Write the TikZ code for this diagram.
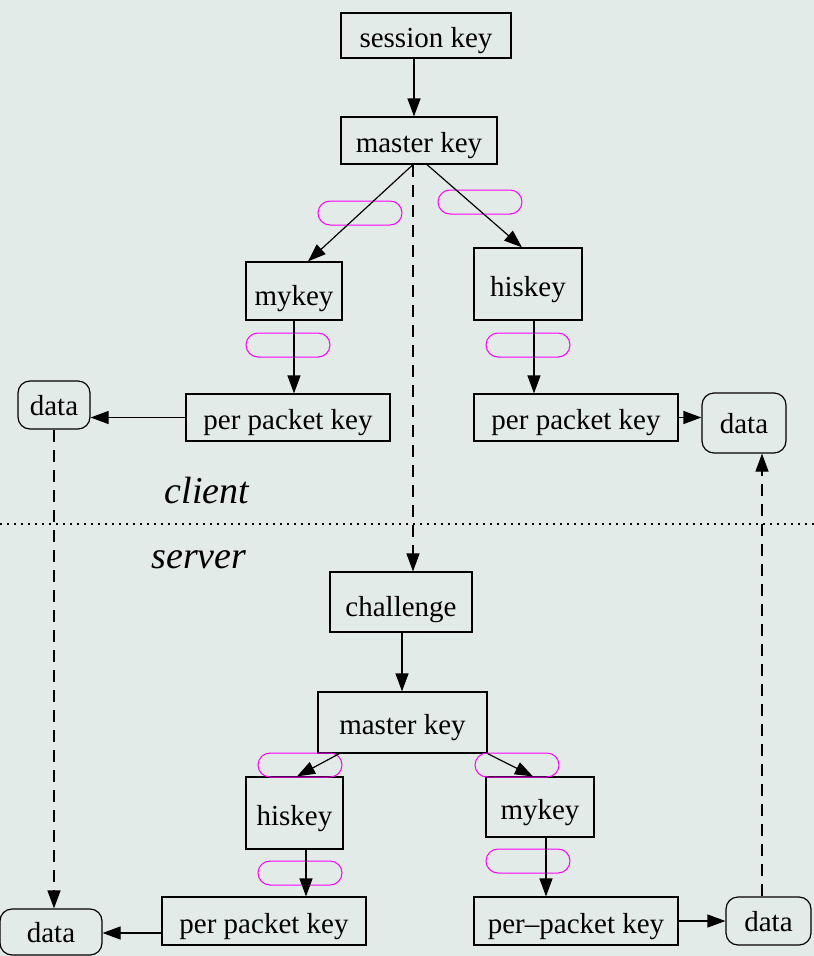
\documentclass[tikz,border=0pt]{standalone}
\usepackage{fontspec}
\setmainfont{Liberation Serif}
\usetikzlibrary{arrows.meta}
\definecolor{bg}{RGB}{227,235,232}
\definecolor{pillc}{RGB}{255,0,255}
\begin{document}
\begin{tikzpicture}[x=1pt,y=-1pt,
  every node/.style={font=\fontsize{29}{34}\selectfont},
  box/.style={draw, line width=1.2pt, inner sep=0pt, rectangle, text height=26pt, text depth=2pt},
  rbox/.style={draw, line width=1.2pt, inner sep=0pt, rounded corners=12pt, text height=24pt, text depth=4pt},
  pill/.style={draw=pillc, line width=1pt, minimum width=84pt, minimum height=24pt, rounded corners=12pt, inner sep=0pt},
  arr/.style={line width=1.2pt, -{Triangle[length=18pt,width=13pt]}},
  darr/.style={arr, dash pattern=on 12pt off 8pt},
  lbl/.style={font=\fontsize{38}{44}\selectfont\itshape}]
\fill[bg] (0,0) rectangle (814,956);
\useasboundingbox (0,0) rectangle (814,956);
% nodes
\node[box, minimum width=170pt, minimum height=45pt] (sk) at (426,35.5) {session key\hspace{12pt}};
\node[box, minimum width=156pt, minimum height=47pt] (mk1) at (419,140.5) {master key};
\node[box, minimum width=96pt, minimum height=58pt, text height=29pt, text depth=0pt] (my1) at (294,291) {mykey};
\node[box, minimum width=108pt, minimum height=72pt] (his1) at (528,284) {hiskey};
\node[box, minimum width=204pt, minimum height=47pt] (ppk1) at (288,417.5) {per packet key};
\node[rbox, minimum width=72pt, minimum height=48pt] (d1) at (54,405) {data};
\node[box, minimum width=204pt, minimum height=47pt] (ppk2) at (576,417.5) {per packet key};
\node[rbox, minimum width=84pt, minimum height=60pt] (d2) at (744,423) {data};
\node[box, minimum width=142pt, minimum height=60pt, text height=29pt, text depth=0pt] (ch) at (401,602) {challenge};
\node[box, minimum width=169pt, minimum height=61pt] (mk2) at (402.5,722.5) {master key};
\node[box, minimum width=97pt, minimum height=72pt] (his2) at (294.5,813) {hiskey};
\node[box, minimum width=108pt, minimum height=60pt] (my2) at (540,807) {mykey};
\node[box, minimum width=204pt, minimum height=48pt] (ppk3) at (264,921) {per packet key};
\node[box, minimum width=204pt, minimum height=48pt] (ppk4) at (576,921) {per{\textendash}packet key};
\node[rbox, minimum width=102pt, minimum height=46pt] (d3) at (51,932) {data};
\node[rbox, minimum width=85pt, minimum height=48pt] (d4) at (768.5,921) {data};
% pills
\node[pill] (p1) at (360,213) {};
\node[pill] (p2) at (480,202) {};
\node[pill] (p3) at (288,345) {};
\node[pill] (p4) at (528,345) {};
\node[pill] (p5) at (300,765) {};
\node[pill] (p6) at (517,765) {};
\node[pill] (p7) at (300,873) {};
\node[pill] (p8) at (528,861) {};
% labels
\node[lbl] (client) at (207,490) {client};
\node[lbl] (server) at (199,560) {server};
\coordinate (dl) at (0,524);
\coordinate (dr) at (814,524);
\draw[line width=1.2pt, dash pattern=on 2pt off 5pt] (dl) -- (dr);
% connectors
\draw[arr] ([xshift=-12pt]sk.south) -- ([xshift=-5pt]mk1.north);
\draw[arr] ([xshift=-6pt]mk1.south) -- ([xshift=14pt]my1.north);
\draw[arr] ([xshift=8pt]mk1.south) -- ([xshift=-6pt]his1.north);
\draw[darr] ([xshift=-6pt]mk1.south) -- ([xshift=12pt]ch.north);
\draw[arr] (my1.south) -- (my1.south |- ppk1.north);
\draw[arr] (ppk1.west) -- (ppk1.west -| d1.east);
\draw[darr] (d1.south) -- (d1.south |- d3.north);
\draw[arr] ([xshift=6pt]his1.south) -- ([xshift=6pt]his1.south |- ppk2.north);
\draw[arr] (ppk2.east) -- (ppk2.east -| d2.west);
\draw[darr] ([xshift=-6.5pt]d4.north) -- ([xshift=-6.5pt]d4.north |- d2.south);
\draw[arr] ([xshift=1pt]ch.south) -- ([xshift=1pt]ch.south |- mk2.north);
\draw[arr] ([xshift=22pt]mk2.south west) -- ([xshift=2.5pt]his2.north);
\draw[arr] (mk2.south east) -- ([xshift=-7pt]my2.north);
\draw[arr] ([xshift=11.5pt]his2.south) -- ([xshift=11.5pt]his2.south |- ppk3.north);
\draw[arr] ([xshift=6pt]my2.south) -- ([xshift=6pt]my2.south |- ppk4.north);
\draw[arr] ([yshift=-12pt]ppk3.west) -- ([yshift=-12pt]ppk3.west -| d3.east);
\draw[arr] (ppk4.east) -- (ppk4.east -| d4.west);
\end{tikzpicture}
\end{document}
